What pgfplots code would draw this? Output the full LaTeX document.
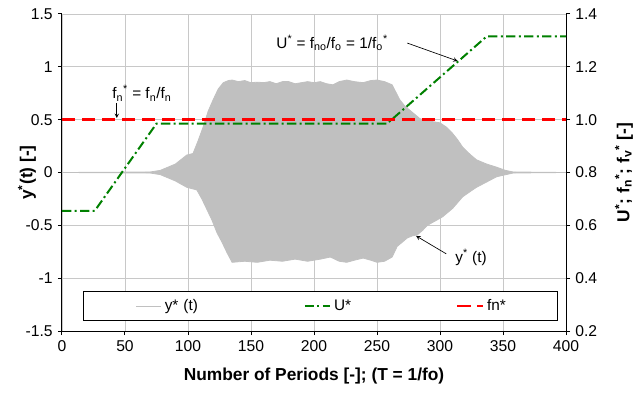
\documentclass[border=0pt]{standalone}
\usepackage{pgfplots}
\pgfplotsset{compat=1.18}
\usepackage{fontspec}
\setmainfont{Liberation Sans}
\definecolor{fillgray}{RGB}{192,192,192}
\definecolor{gridgray}{RGB}{200,200,200}
\definecolor{ugreen}{RGB}{0,128,0}
\begin{document}
\fontsize{11.5}{13.8}\selectfont
\begin{tikzpicture}
\pgfplotsset{
  every axis/.append style={
    scale only axis, width=378pt, height=237.75pt,
    xmin=0, xmax=400,
    tick label style={font=\fontsize{11.75}{14}\selectfont},
    label style={font=\bfseries\fontsize{13}{15}\selectfont},
    /pgf/number format/assume math mode=true,
    tick align=outside, major tick length=3pt,
    axis line style={-, black, line width=0.75pt},
    tick style={black, line width=0.75pt},
  }
}
\begin{axis}[
  axis x line*=bottom, axis y line*=left,
  xtick pos=bottom, ytick pos=left,
  ymin=-1.5, ymax=1.5, ytick={-1.5,-1,-0.5,0,0.5,1,1.5}, xtick={0,50,...,400},
  grid=major, grid style={gridgray, line width=0.6pt},
  xlabel={Number of Periods [-]; (T = 1/fo)},
  ylabel={y\textsuperscript{*}(t) [-]},
  xlabel style={at={(axis description cs:0.5,0)}, anchor=center, yshift=-34pt},
  ylabel style={at={(axis description cs:0,0.5)}, anchor=center, yshift=26.25pt},
]
\addplot[draw=fillgray, fill=fillgray, line width=0.6pt, forget plot] coordinates {
(0,0) (70,0.005) (78,0.02) (90,0.08) (99,0.165) (104,0.18) (108,0.3) (112,0.43) (116,0.58) (120,0.69) (124,0.79) (128,0.85) (132,0.87) (135,0.875) (140,0.86) (145,0.87) (150,0.85) (155,0.855) (160,0.85) (165,0.86) (170,0.84) (175,0.86) (180,0.86) (185,0.84) (190,0.85) (195,0.86) (200,0.85) (205,0.86) (210,0.84) (215,0.83) (220,0.86) (226,0.875) (232,0.86) (239,0.85) (245,0.87) (250,0.875) (256,0.86) (262,0.83) (268,0.69) (272,0.63) (276,0.59) (280,0.55) (284,0.51) (290,0.49) (300,0.47) (305,0.43) (310,0.37) (314,0.31) (318,0.24) (324,0.17) (329,0.12) (337,0.08) (345,0.05) (352,0.02) (358,0.005) (400,0)
(358,-0.005) (345,-0.04) (337,-0.09) (329,-0.14) (324,-0.18) (318,-0.23) (310,-0.34) (302,-0.42) (296,-0.46) (290,-0.50) (286,-0.55) (282,-0.59) (278,-0.60) (274,-0.62) (270,-0.66) (266,-0.70) (262,-0.80) (256,-0.84) (250,-0.85) (245,-0.83) (239,-0.81) (232,-0.83) (226,-0.85) (220,-0.84) (213,-0.80) (205,-0.82) (195,-0.84) (185,-0.82) (175,-0.84) (165,-0.83) (155,-0.85) (145,-0.84) (135,-0.85) (131,-0.76) (127,-0.66) (123,-0.57) (119,-0.45) (115,-0.35) (111,-0.25) (107,-0.165) (99,-0.14) (90,-0.08) (78,-0.02) (70,-0.005) (0,0)
} -- cycle;
\node[anchor=west, inner sep=0pt] at (axis cs:312,-0.80) {y\textsuperscript{*} (t)};
\draw[-stealth, line width=0.5pt] (axis cs:305,-0.77) -- (axis cs:281,-0.60);
\node[anchor=west, inner sep=0pt] at (axis cs:170,1.225) {U\textsuperscript{*} = f\textsubscript{no}/f\textsubscript{o} = 1/f\textsubscript{o}\textsuperscript{*}};
\draw[-stealth, line width=0.5pt] (axis cs:274,1.225) -- (axis cs:314,1.055);
\node[anchor=west, inner sep=0pt] at (axis cs:39.7,0.75) {f\textsubscript{n}\textsuperscript{*} = f\textsubscript{n}/f\textsubscript{n}};
\draw[-stealth, line width=0.5pt] (axis cs:43.5,0.66) -- (axis cs:43.5,0.515);
\end{axis}
\begin{axis}[
  axis x line=none, axis y line*=right,
  ytick pos=right, yticklabel pos=right,
  ymin=0.2, ymax=1.4, ytick={0.2,0.4,0.6,0.8,1.0,1.2,1.4},
  yticklabel style={/pgf/number format/.cd, fixed, fixed zerofill, precision=1},
  ylabel={U\textsuperscript{*}; f\textsubscript{n}\textsuperscript{*}; f\textsubscript{v}\textsuperscript{*} [-]},
  ylabel style={at={(axis description cs:1,0.5)}, anchor=center, yshift=-43.5pt},
  legend columns=3,
  legend image code/.code={\draw[#1] (0pt,0pt) -- (19pt,0pt);},
  legend style={at={(axis description cs:0.0417,0.0789)}, anchor=west, draw=black, line width=0.75pt,
    inner xsep=0pt, inner ysep=3.5pt, font=\fontsize{11.5}{13.8}\selectfont,
    /tikz/every odd column/.style={column sep=2.25pt},
    nodes={inner xsep=0pt}},
]
\addlegendimage{legend image code/.code={\path (0pt,0pt); \draw[fillgray, line width=0.6pt] (39pt,0pt) -- (58pt,0pt);}}
\addlegendentry[text width=104.25pt]{y* (t)}
\addplot[ugreen, line width=1.5pt, dash pattern=on 7pt off 2.5pt on 1.5pt off 2.5pt] coordinates {
(0,0.655) (26,0.655) (75,0.985) (258,0.985) (337,1.315) (400,1.315)};
\addlegendentry[text width=91.5pt]{U*}
\addplot[red, line width=2pt, dash pattern=on 10pt off 5pt] coordinates {(0,1) (400,1)};
\addlegendentry[text width=52.5pt]{fn*}
\coordinate (SW) at (rel axis cs:0,0);
\coordinate (NE) at (rel axis cs:1,1);
\end{axis}
\pgfresetboundingbox
\path ([xshift=-46.5pt,yshift=-45.75pt]SW) rectangle ([xshift=51pt,yshift=10.5pt]NE);
\end{tikzpicture}
\end{document}
